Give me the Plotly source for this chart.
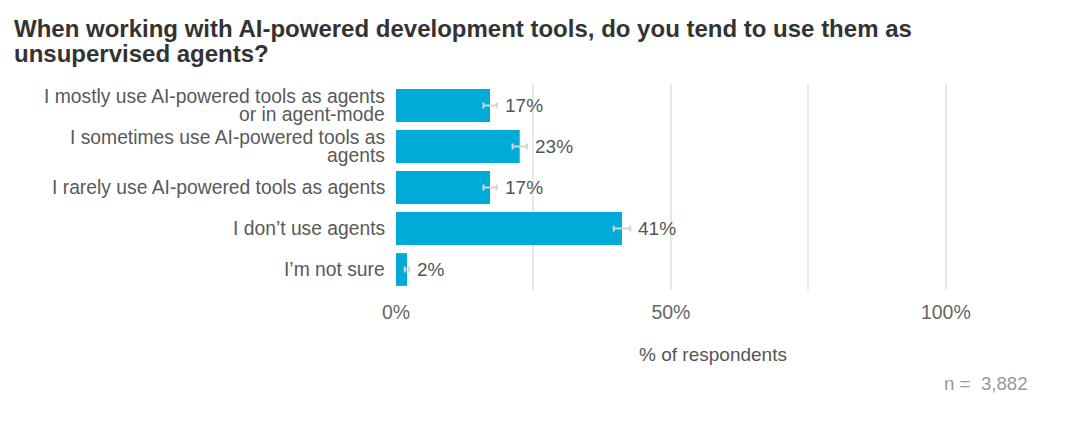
import plotly.graph_objects as go

categories = [
    "I mostly use AI-powered tools as agents<br>or in agent-mode",
    "I sometimes use AI-powered tools as<br>agents",
    "I rarely use AI-powered tools as agents",
    "I don’t use agents",
    "I’m not sure",
]
values = [0.171, 0.225, 0.171, 0.411, 0.020]
errors = [0.012, 0.013, 0.012, 0.015, 0.004]
labels = ["17%", "23%", "17%", "41%", "2%"]
n_text = "n =  3,882"
title_lines = [
    "When working with AI-powered development tools, do you tend to use them as",
    "unsupervised agents?",
]

FONT = "Liberation Sans, Arial, sans-serif"

# the page body adds an 8px offset; size figure to fill window
W, H = 1074, 415
ML, MR, MT, MB = 388, 52, 76, 133
PW, PH = W - ML - MR, H - MT - MB
LINE_H = 18

fig = go.Figure()
fig.add_trace(go.Bar(
    y=categories, x=values, orientation="h",
    marker=dict(color="#00acd7", line=dict(width=0)),
    error_x=dict(type="data", array=errors, color="#d3d3d3", thickness=2, width=3),
    hoverinfo="skip", showlegend=False,
))

annotations = []
# value labels
for c, v, e, t in zip(categories, values, errors, labels):
    annotations.append(dict(x=v + e, y=c, text=t, xref="x", yref="y", xanchor="left",
                            yanchor="middle", xshift=6, showarrow=False,
                            font=dict(size=19, color="#555555", family=FONT)))
# category labels (tight line spacing)
for c in categories:
    parts = c.split("<br>")
    n = len(parts)
    for i, p in enumerate(parts):
        annotations.append(dict(x=0, y=c, text=p, xref="paper", yref="y", xanchor="right",
                                yanchor="middle", xshift=-9,
                                yshift=((n - 1) / 2 - i) * LINE_H, showarrow=False,
                                font=dict(size=19.3, color="#595959", family=FONT)))
# title lines
for i, tl in enumerate(title_lines):
    annotations.append(dict(text="<b>" + tl + "</b>", xref="paper", yref="paper",
                            x=-(ML - 4) / PW, xanchor="left",
                            y=1 + (MT - 20 - 25 * i) / PH, yanchor="middle",
                            showarrow=False,
                            font=dict(size=24, color="#333333", family=FONT)))
annotations.append(dict(text=n_text, xref="paper", yref="paper", x=1, y=-0.456,
                        xanchor="right", yanchor="middle", showarrow=False,
                        font=dict(size=18.7, color="#999999", family=FONT)))

fig.update_layout(
    width=W, height=H,
    margin=dict(l=ML, r=MR, t=MT, b=MB),
    paper_bgcolor="white", plot_bgcolor="white",
    font=dict(family=FONT, color="#555555", size=19),
    bargap=0.2,
    xaxis=dict(range=[0, 1.153], tickvals=[0, 0.5, 1.0], ticktext=["0%", "50%", "100%"],
               showgrid=True, gridcolor="#e8e8e8", gridwidth=1.5,
               minor=dict(tickvals=[0.25, 0.75], showgrid=True, gridcolor="#e8e8e8", gridwidth=1.5),
               zeroline=False, showline=False, ticks="", ticklabelstandoff=8,
               tickfont=dict(size=19.5, color="#666666"),
               title=dict(text="% of respondents", font=dict(size=19, color="#555555"), standoff=26),
               fixedrange=True),
    yaxis=dict(autorange="reversed", showgrid=False, zeroline=False, showline=False,
               ticks="", showticklabels=False, fixedrange=True),
    annotations=annotations,
)

fig.write_html("out.html")
